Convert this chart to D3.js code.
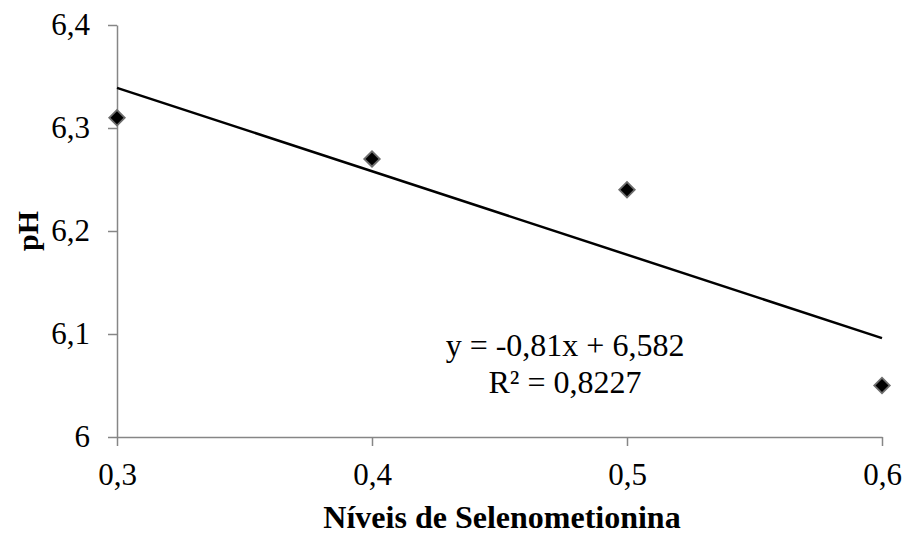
<!DOCTYPE html>
<html>
<head>
<meta charset="utf-8">
<script src="https://cdn.jsdelivr.net/npm/d3@7"></script>
<style>
  body { margin: 0; background: #fff; }
  svg { display: block; font-family: "Liberation Serif", "Times New Roman", serif; }
</style>
</head>
<body>
<svg id="chart" width="906" height="534"></svg>
<script>
// Selenomethionine levels and measured pH
const levels = [0.3, 0.4, 0.5, 0.6];
const phValues = [6.31, 6.27, 6.24, 6.05];
const xTicks = [0.3, 0.4, 0.5, 0.6];
const yTicks = [6, 6.1, 6.2, 6.3, 6.4];
// Linear trend: y = slope*x + intercept
const slope = -0.81;
const intercept = 6.582;
const rSquared = 0.8227;

const svg = d3.select("#chart");
const margin = { left: 117, right: 24, top: 25, bottom: 97 };
const W = 906, H = 534;
const serif = "Liberation Serif, Times New Roman, serif";

const x = d3.scaleLinear().domain([0.3, 0.6]).range([margin.left, W - margin.right]);
const y = d3.scaleLinear().domain([6, 6.4]).range([H - margin.bottom, margin.top]);

// Decimal comma, plain hyphen for negatives
const fmt = v => d3.format("~g")(v).replace(".", ",").replace("\u2212", "-");
const axisColor = "#868686";

// Y axis
const yAxis = svg.append("g")
  .attr("transform", `translate(${x(0.3)},0)`)
  .call(d3.axisLeft(y).tickValues(yTicks).tickFormat(fmt).tickSizeInner(9).tickSizeOuter(0).tickPadding(18));
yAxis.attr("font-family", serif);
yAxis.select(".domain").attr("stroke", axisColor).attr("stroke-width", 1.5);
yAxis.selectAll(".tick line").attr("stroke", axisColor).attr("stroke-width", 1.5);
yAxis.selectAll(".tick text").attr("font-size", 31).attr("fill", "#000");

// X axis
const xAxis = svg.append("g")
  .attr("transform", `translate(0,${y(6)})`)
  .call(d3.axisBottom(x).tickValues(xTicks).tickFormat(fmt).tickSizeInner(9).tickSizeOuter(0).tickPadding(17));
xAxis.attr("font-family", serif);
xAxis.select(".domain").attr("stroke", axisColor).attr("stroke-width", 1.5);
xAxis.selectAll(".tick line").attr("stroke", axisColor).attr("stroke-width", 1.5);
xAxis.selectAll(".tick text").attr("font-size", 31).attr("fill", "#000");

// Trend line across the x domain
const trend = x.domain().map(v => [v, slope * v + intercept]);
svg.append("path")
  .datum(trend)
  .attr("d", d3.line().x(d => x(d[0])).y(d => y(d[1])))
  .attr("fill", "none")
  .attr("stroke", "#000")
  .attr("stroke-width", 2.5);

// Data points as diamonds
const diamond = d3.symbol().type(d3.symbolSquare).size(120);
svg.append("g").selectAll("path")
  .data(levels.map((l, i) => [l, phValues[i]]))
  .join("path")
  .attr("d", diamond)
  .attr("transform", d => `translate(${x(d[0])},${y(d[1])}) rotate(45)`)
  .attr("fill", "#000")
  .attr("stroke", "#6e6e6e")
  .attr("stroke-width", 1.8);

// Equation label
const eq = svg.append("text")
  .attr("text-anchor", "middle")
  .attr("font-size", 32)
  .attr("fill", "#000");
eq.append("tspan").attr("x", 565).attr("y", 356)
  .text(`y = ${fmt(slope)}x + ${fmt(intercept)}`);
eq.append("tspan").attr("x", 565).attr("y", 393)
  .text(`R² = ${fmt(rSquared)}`);

// Axis titles
svg.append("text")
  .attr("transform", `translate(38,${y(6.2)}) rotate(-90)`)
  .attr("text-anchor", "middle")
  .attr("font-size", 30)
  .attr("font-weight", "bold")
  .text("pH");

svg.append("text")
  .attr("x", 502)
  .attr("y", 528)
  .attr("text-anchor", "middle")
  .attr("font-size", 32)
  .attr("font-weight", "bold")
  .text("Níveis de Selenometionina");
</script>
</body>
</html>
